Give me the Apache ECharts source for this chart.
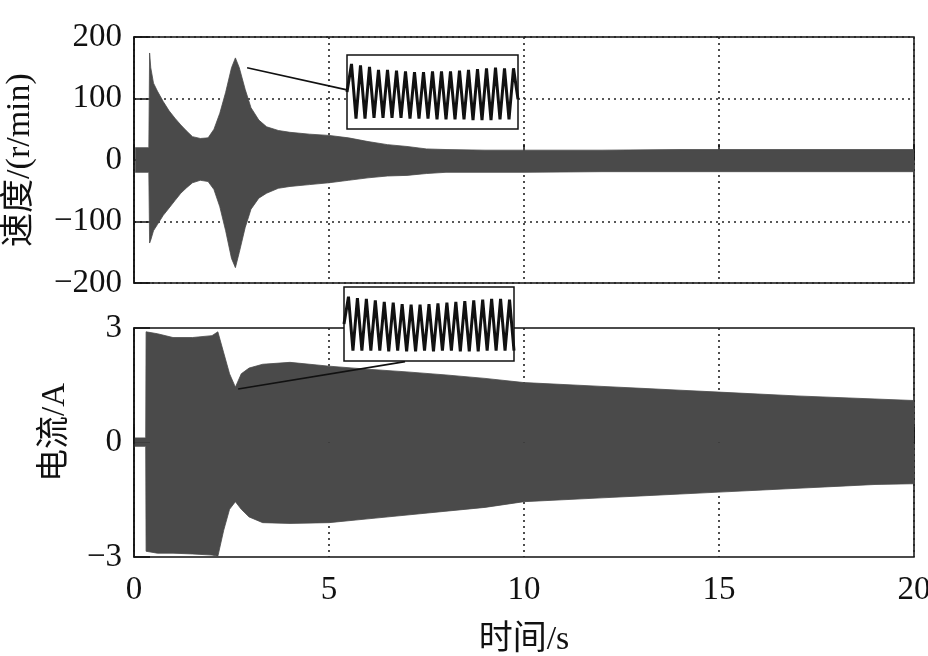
<!DOCTYPE html>
<html><head><meta charset="utf-8">
<script src="https://cdn.jsdelivr.net/npm/echarts@6/dist/echarts.min.js"></script>
<style>html,body{margin:0;padding:0;background:#fff}#c{width:928px;height:656px}</style>
</head><body><div id="c"></div>
<script>
// ---- data ----
const xTicks = [0, 5, 10, 15, 20];
const speedTicks = [-200, -100, 0, 100, 200];
const currentTicks = [-3, 0, 3];

const speedT  = [0.03, 0.38, 0.40, 0.43, 0.5, 0.6, 0.75, 0.9, 1.05, 1.2, 1.35, 1.5, 1.7, 1.9, 2.05, 2.2, 2.35, 2.5, 2.6, 2.7, 2.85, 3.0, 3.2, 3.4, 3.7, 4.0, 4.5, 5.0, 5.5, 6.0, 6.5, 7.0, 7.5, 8.0, 9, 10, 12, 14, 16, 18, 20];
const speedUp = [20, 20, 174, 150, 125, 112, 95, 80, 68, 57, 47, 38, 35, 36, 50, 76, 110, 150, 166, 150, 115, 85, 65, 54, 48, 45, 42, 40, 36, 30, 25, 22, 18, 17, 16, 16, 16, 17, 17, 17, 17];
const speedLo = [-20, -20, -135, -130, -115, -105, -90, -78, -66, -54, -45, -37, -33, -35, -48, -76, -115, -160, -175, -150, -110, -80, -62, -54, -46, -43, -40, -37, -33, -29, -26, -25, -22, -20, -20, -20, -19, -19, -19, -19, -19];

const currT  = [0.02, 0.3, 0.31, 0.6, 1.0, 1.5, 2.0, 2.15, 2.3, 2.45, 2.6, 2.75, 2.95, 3.3, 4.0, 5.0, 6.0, 7.0, 8.0, 9.0, 10, 11, 12, 13, 14, 15, 16, 17, 18, 19, 20];
const currUp = [0.12, 0.12, 2.9, 2.85, 2.75, 2.75, 2.8, 2.9, 2.35, 1.8, 1.45, 1.8, 1.95, 2.05, 2.1, 2.0, 1.92, 1.85, 1.77, 1.68, 1.57, 1.52, 1.47, 1.42, 1.37, 1.32, 1.27, 1.22, 1.18, 1.14, 1.1];
const currLo = [-0.1, -0.1, -2.85, -2.9, -2.9, -2.92, -2.95, -2.98, -2.3, -1.75, -1.55, -1.75, -1.95, -2.1, -2.12, -2.1, -2.0, -1.9, -1.8, -1.7, -1.55, -1.5, -1.45, -1.4, -1.35, -1.3, -1.25, -1.2, -1.15, -1.1, -1.08];

// zoomed insets (relative amplitude, 0..100)
const insetSpeed = [50, 88, 14, 86, 14, 84, 15, 80, 15, 80, 15, 79, 15, 78, 14, 77, 14, 77, 14, 78, 13, 78, 13, 78, 13, 79, 13, 80, 12, 81, 12, 82, 12, 83, 13, 82, 13, 82, 40];
const insetCurrent = [50, 87, 14, 85, 14, 84, 14, 82, 14, 80, 13, 79, 14, 77, 13, 76, 13, 76, 14, 77, 13, 78, 14, 79, 14, 80, 13, 81, 13, 82, 13, 83, 14, 84, 14, 84, 14, 83, 14];

// connector lines [t, value] -> [t, value]
const speedConnector = [[2.9, 150], [5.46, 114]];
const currentConnector = [[2.67, 1.4], [6.95, 2.12]];

// ---- chart ----
const FILL = '#4a4a4a';
const serif = 'Liberation Serif';
const cjk = '"Liberation Serif", "Noto Sans CJK SC"';
const pairs = (t, v) => t.map((x, i) => [x, v[i]]);
const fmt = v => String(v).replace('-', '\u2212');
const dotted = {show: true, lineStyle: {color: '#222', type: [2, 4], width: 1.6}};

function envelope(name, xi, yi, t, v) {
  return {name, type: 'line', xAxisIndex: xi, yAxisIndex: yi, data: pairs(t, v),
    symbol: 'none', lineStyle: {color: FILL, width: 0.8},
    areaStyle: {color: FILL, opacity: 1}, z: 3, silent: true};
}
function connector(xi, yi, c) {
  return {type: 'line', xAxisIndex: xi, yAxisIndex: yi, data: c, symbol: 'none',
    lineStyle: {color: '#111', width: 1.6}, z: 4, silent: true};
}
function inset(xi, yi, d) {
  return {type: 'line', xAxisIndex: xi, yAxisIndex: yi, data: d.map((v, i) => [i, v]),
    symbol: 'none', lineStyle: {color: '#111', width: 3}, z: 12, silent: true};
}

const xBase = (gi, labels) => ({
  type: 'value', gridIndex: gi, min: xTicks[0], max: xTicks[xTicks.length - 1], interval: 5,
  axisLine: {show: true, lineStyle: {color: '#111', width: 1.5}},
  axisTick: {show: true, inside: true, length: 16, lineStyle: {color: '#111', width: 1.5}},
  axisLabel: {show: labels, fontFamily: serif, fontSize: 33, color: '#111', margin: 17},
  splitLine: dotted
});
const gridBase = {show: true, borderColor: '#111', borderWidth: 1.5, containLabel: false, outerBoundsMode: 'none'};

const chart = echarts.init(document.getElementById('c'));
chart.setOption({
  animation: false,
  backgroundColor: '#fff',
  grid: [
    Object.assign({left: 134, top: 37, width: 780, height: 246, z: 0}, gridBase),
    Object.assign({left: 134, top: 328, width: 780, height: 229, z: 0}, gridBase),
    Object.assign({left: 347, top: 55, width: 171, height: 74, backgroundColor: '#fff', z: 10}, gridBase),
    Object.assign({left: 344, top: 287, width: 170, height: 74, backgroundColor: '#fff', z: 10}, gridBase)
  ],
  xAxis: [
    xBase(0, false),
    Object.assign(xBase(1, true), {name: '时间/s', nameLocation: 'middle', nameGap: 66,
      nameTextStyle: {fontFamily: cjk, fontSize: 34, color: '#111'}}),
    {type: 'value', gridIndex: 2, min: 0, max: insetSpeed.length - 1, show: false},
    {type: 'value', gridIndex: 3, min: 0, max: insetCurrent.length - 1, show: false}
  ],
  yAxis: [
    {type: 'value', gridIndex: 0, min: speedTicks[0], max: speedTicks[speedTicks.length - 1], interval: 100,
      name: '速度/(r/min)', nameLocation: 'middle', nameGap: 97, nameRotate: 90,
      nameTextStyle: {fontFamily: cjk, fontSize: 34, color: '#111'},
      axisLine: {show: true, lineStyle: {color: '#111', width: 1.5}},
      axisTick: {show: true, inside: true, length: 16, lineStyle: {color: '#111', width: 1.5}},
      axisLabel: {fontFamily: serif, fontSize: 33, color: '#111', margin: 12, formatter: fmt},
      splitLine: dotted},
    {type: 'value', gridIndex: 1, min: currentTicks[0], max: currentTicks[currentTicks.length - 1], interval: 3,
      name: '电流/A', nameLocation: 'middle', nameGap: 62, nameRotate: 90,
      nameTextStyle: {fontFamily: cjk, fontSize: 33, color: '#111', padding: [0, 0, 0, 20]},
      axisLine: {show: true, lineStyle: {color: '#111', width: 1.5}},
      axisTick: {show: true, inside: true, length: 16, lineStyle: {color: '#111', width: 1.5}},
      axisLabel: {fontFamily: serif, fontSize: 33, color: '#111', margin: 12, formatter: fmt},
      splitLine: {show: false}},
    {type: 'value', gridIndex: 2, min: 0, max: 100, show: false},
    {type: 'value', gridIndex: 3, min: 0, max: 100, show: false}
  ],
  series: [
    envelope('speedUp', 0, 0, speedT, speedUp),
    envelope('speedLo', 0, 0, speedT, speedLo),
    envelope('currUp', 1, 1, currT, currUp),
    envelope('currLo', 1, 1, currT, currLo),
    connector(0, 0, speedConnector),
    connector(1, 1, currentConnector),
    inset(2, 2, insetSpeed),
    inset(3, 3, insetCurrent)
  ]
});
</script></body></html>
